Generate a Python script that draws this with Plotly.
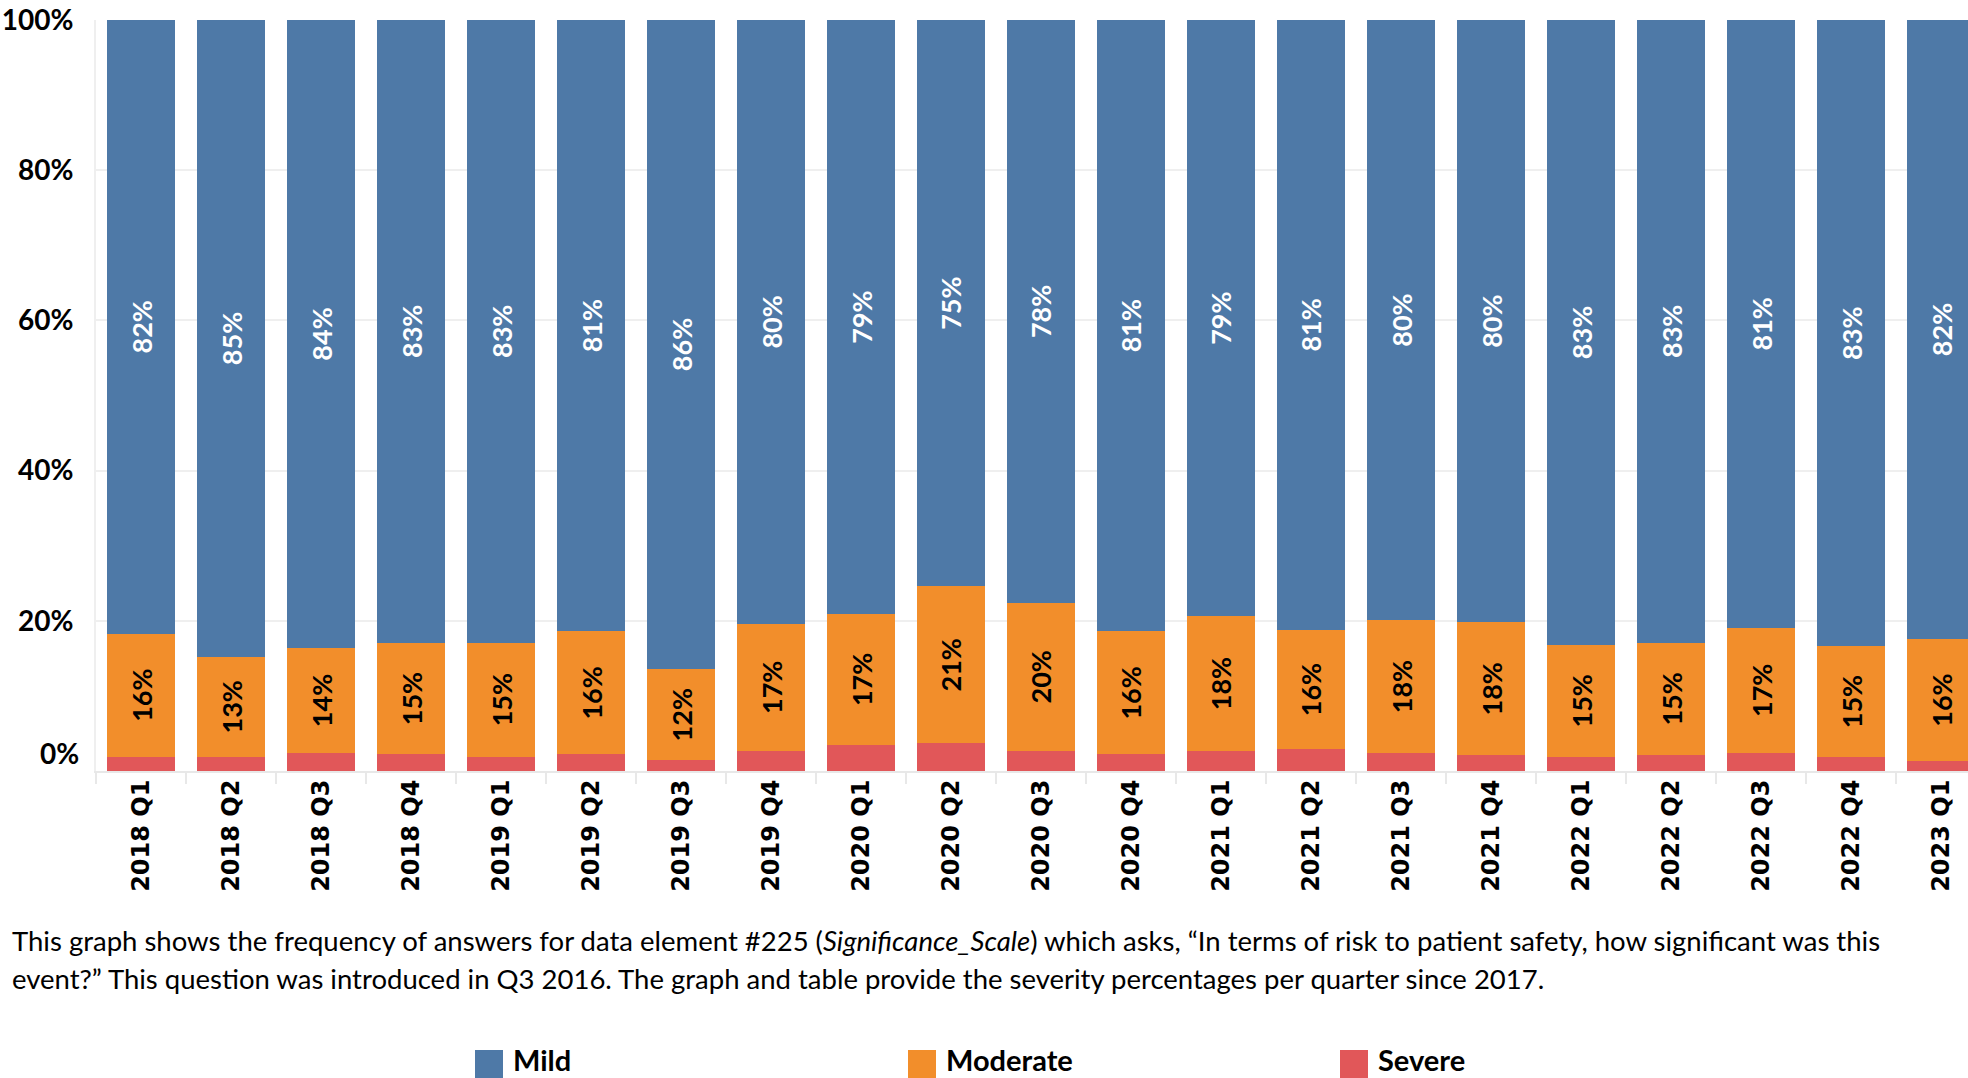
import plotly.graph_objects as go

quarters = ["2018 Q1", "2018 Q2", "2018 Q3", "2018 Q4",
            "2019 Q1", "2019 Q2", "2019 Q3", "2019 Q4",
            "2020 Q1", "2020 Q2", "2020 Q3", "2020 Q4",
            "2021 Q1", "2021 Q2", "2021 Q3", "2021 Q4",
            "2022 Q1", "2022 Q2", "2022 Q3", "2022 Q4",
            "2023 Q1"]
mild = [81.7, 84.8, 83.6, 82.9, 82.9, 81.4, 86.4, 80.4, 79.1, 75.4, 77.6,
        81.4, 79.4, 81.2, 79.9, 80.2, 83.2, 82.9, 80.9, 83.4, 82.4]
moderate = [16.4, 13.3, 14.0, 14.9, 15.2, 16.4, 12.2, 16.9, 17.4, 20.9, 19.7,
            16.4, 17.9, 15.9, 17.7, 17.7, 14.9, 15.0, 16.7, 14.7, 16.3]
severe = [1.9, 1.9, 2.4, 2.2, 1.9, 2.2, 1.4, 2.7, 3.5, 3.7, 2.7,
          2.2, 2.7, 2.9, 2.4, 2.1, 1.9, 2.1, 2.4, 1.9, 1.3]
y_ticks = [0, 20, 40, 60, 80, 100]
y_tick_labels = ["0%", "20%", "40%", "60%", "80%", "100%"]
series_names = ["Mild", "Moderate", "Severe"]
colors = {"Mild": "#4E79A7", "Moderate": "#F28E2B", "Severe": "#E15759"}

W, H = 1968, 1078
L, R, T, B = 96, 0, 20, 307
PW, PH = W - L - R, H - T - B


def px(x):
    return (x - L) / PW


def py(y):
    return (H - B - y) / PH


fig = go.Figure()
fig.add_trace(go.Bar(x=quarters, y=severe, name="Severe",
                     marker=dict(color=colors["Severe"], line=dict(width=0)),
                     textposition="none", hoverinfo="x+y"))
fig.add_trace(go.Bar(x=quarters, y=moderate, name="Moderate",
                     marker=dict(color=colors["Moderate"], line=dict(width=0)),
                     texttemplate="%{y:.0f}%", textposition="inside",
                     insidetextanchor="middle", textangle=-90,
                     constraintext="none",
                     textfont=dict(family="Lato", size=27, color="black", weight="bold")))
fig.add_trace(go.Bar(x=quarters, y=mild, name="Mild",
                     marker=dict(color=colors["Mild"], line=dict(width=0)),
                     texttemplate="%{y:.0f}%", textposition="inside",
                     insidetextanchor="middle", textangle=-90,
                     constraintext="none",
                     textfont=dict(family="Lato", size=27, color="white", weight="bold")))

caption1 = ("This graph shows the frequency of answers for data element #225 "
            "(<i>Significance_Scale</i>) which asks, \u201cIn terms of risk to patient "
            "safety, how significant was this")
caption2 = ("event?\u201d This question was introduced in Q3 2016. The graph and table "
            "provide the severity percentages per quarter since 2017.")

# y tick labels (the bottom one is lifted above the baseline, as in the original)
tick_text = [""] + y_tick_labels[1:]
annotations = [
    dict(text=y_tick_labels[0], x=0, y=y_ticks[0], xref="paper", yref="y",
         xanchor="right", yanchor="middle", xshift=-15, yshift=18,
         showarrow=False,
         font=dict(family="Lato", size=28, color="black", weight="bold")),
    dict(text=caption1, x=px(10), y=py(940), xref="paper", yref="paper",
         xanchor="left", yanchor="middle", showarrow=False,
         font=dict(family="Lato", size=27.5, color="black")),
    dict(text=caption2, x=px(10), y=py(978), xref="paper", yref="paper",
         xanchor="left", yanchor="middle", showarrow=False,
         font=dict(family="Lato", size=27.5, color="black")),
]
shapes = []
legend_pos = {"Mild": 475, "Moderate": 908, "Severe": 1340}
for name in series_names:
    x0 = legend_pos[name]
    shapes.append(dict(type="rect", xref="paper", yref="paper",
                       x0=px(x0), x1=px(x0 + 28), y0=py(1050), y1=py(1078),
                       fillcolor=colors[name], line=dict(width=0)))
    annotations.append(dict(text=name, x=px(x0 + 36), y=py(1059),
                            xref="paper", yref="paper", xanchor="left",
                            yanchor="middle", showarrow=False,
                            font=dict(family="Lato", size=29, color="black",
                                      weight="bold")))

fig.update_layout(
    width=W, height=H,
    margin=dict(l=L, r=R, t=T, b=B, pad=0),
    barmode="stack", bargap=0.255,
    plot_bgcolor="white", paper_bgcolor="white",
    showlegend=False,
    annotations=annotations, shapes=shapes,
    xaxis=dict(range=[-0.5, 20.3], tickangle=-90, showgrid=False,
               showline=True, linecolor="#e8e8e8", linewidth=2,
               ticks="outside", tickson="boundaries", ticklen=11,
               tickcolor="#e8e8e8", tickwidth=2, ticklabelstandoff=-3,
               tickfont=dict(family="DejaVu Sans", size=24, color="black",
                             weight="bold")),
    yaxis=dict(range=[0, 100], tickvals=y_ticks, ticktext=tick_text,
               showgrid=True, gridcolor="#efefef", gridwidth=2,
               zeroline=False, showline=True, linecolor="#efefef", linewidth=2,
               ticks="", ticklabelstandoff=15,
               tickfont=dict(family="Lato", size=28, color="black",
                             weight="bold")),
)

fig.write_html(
    "out.html",
    config={"displayModeBar": False},
    post_script="document.body.style.margin='0';document.body.style.overflow='hidden';",
)
